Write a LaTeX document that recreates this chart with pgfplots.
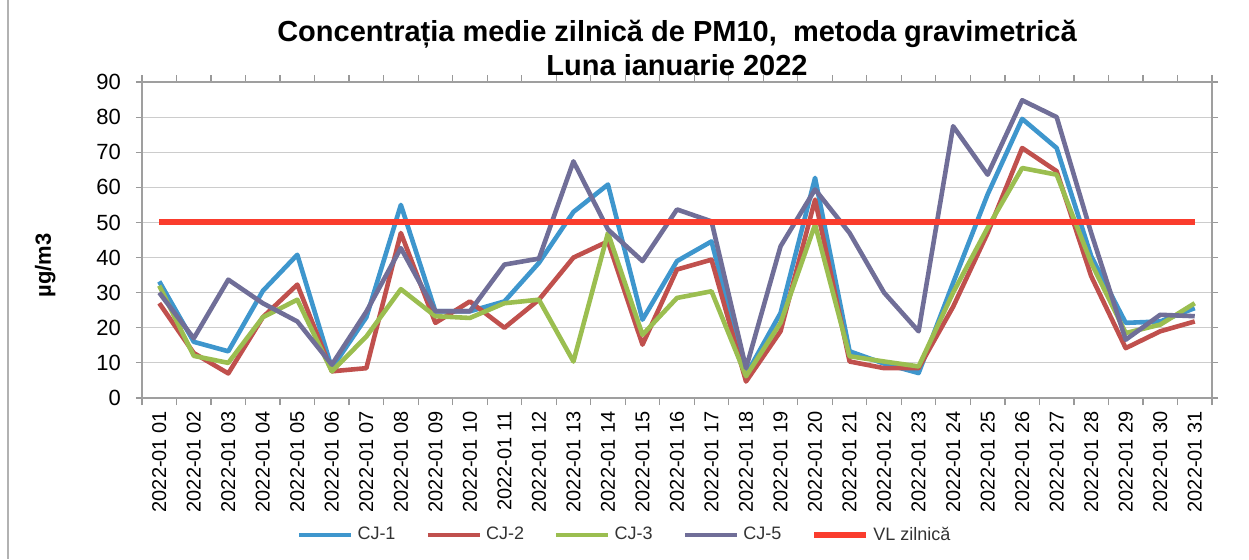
\documentclass[border=0pt]{standalone}
\usepackage{fontspec}
\setmainfont{Liberation Sans}
\usepackage{pgfplots}
\pgfplotsset{compat=1.18}
\usepackage{pgfplotstable}

\definecolor{cjone}{RGB}{62,150,205}
\definecolor{cjtwo}{RGB}{192,80,77}
\definecolor{cjthree}{RGB}{155,190,80}
\definecolor{cjfive}{RGB}{112,110,152}
\definecolor{vlred}{RGB}{250,60,45}

% daily means, ug/m3
\pgfplotstableread{
day cj1  cj2  cj3  cj5  vl
1   33.2 27.0 32.0 30.0 50
2   16.0 12.8 12.0 17.0 50
3   13.3 7.0  10.0 33.7 50
4   30.5 23.0 23.0 27.0 50
5   40.8 32.3 28.0 21.8 50
6   8.5  7.6  7.6  9.5  50
7   23.0 8.5  17.5 24.6 50
8   55.0 47.0 31.0 42.7 50
9   24.7 21.4 23.3 24.7 50
10  24.7 27.5 22.8 24.7 50
11  27.5 20.0 27.0 38.0 50
12  38.5 28.0 28.0 39.7 50
13  53.0 40.0 10.4 67.4 50
14  60.8 44.6 47.0 48.0 50
15  22.3 15.2 18.0 39.0 50
16  39.0 36.6 28.5 53.7 50
17  44.6 39.4 30.4 50.3 50
18  6.6  4.7  6.2  8.5  50
19  24.2 19.0 21.4 43.2 50
20  62.7 56.5 49.4 59.4 50
21  13.3 10.4 11.9 47.0 50
22  9.8  8.5  10.4 30.0 50
23  7.1  8.5  9.0  19.0 50
24  32.8 26.0 30.0 77.4 50
25  58.0 47.0 48.5 63.6 50
26  79.5 71.2 65.5 84.8 50
27  71.2 64.6 63.6 80.0 50
28  40.4 34.7 38.5 47.0 50
29  21.4 14.2 18.5 16.6 50
30  21.8 19.0 20.9 23.7 50
31  25.6 21.8 27.0 23.3 50
}\pmdata

\begin{document}
\begin{tikzpicture}
\useasboundingbox (-71pt,-80.5pt) rectangle (553.5pt,199pt);
\draw[gray!60, line width=0.6pt] (-67pt,-80.5pt) -- (-67pt,199pt);
\begin{axis}[
    at={(0,0)}, anchor=south west,
    scale only axis,
    width=535pt, height=158pt,
    xmin=0.5, xmax=31.5,
    ymin=0, ymax=90,
    xtick={1,...,31},
    xticklabels={2022-01 01,2022-01 02,2022-01 03,2022-01 04,2022-01 05,2022-01 06,2022-01 07,2022-01 08,2022-01 09,2022-01 10,2022-01 11,2022-01 12,2022-01 13,2022-01 14,2022-01 15,2022-01 16,2022-01 17,2022-01 18,2022-01 19,2022-01 20,2022-01 21,2022-01 22,2022-01 23,2022-01 24,2022-01 25,2022-01 26,2022-01 27,2022-01 28,2022-01 29,2022-01 30,2022-01 31},
    minor xtick={0.5,1.5,...,31.5},
    ytick={0,10,...,90},
    major x tick style={draw=none},
    minor x tick style={gray!80, line width=0.6pt},
    y tick style={gray!80, line width=0.6pt},
    tick align=outside,
    major tick length=3pt, minor tick length=3.5pt,
    ymajorgrids,
    grid style={gray!40, line width=0.6pt},
    axis line style={gray!75, line width=0.6pt},
    x tick label style={rotate=90, anchor=east, font=\fontsize{10}{12}\selectfont},
    y tick label style={font=\fontsize{11}{12}\selectfont, xshift=-4pt},
    /pgf/number format/assume math mode=true,
    title={Concentrația medie zilnică de PM10,~ metoda gravimetrică\\Luna ianuarie 2022},
    title style={font=\bfseries\fontsize{14.5}{17}\selectfont, align=center, at={(0.5,1)}, anchor=south, yshift=-6.5pt},
    ylabel={µg/m3},
    ylabel style={font=\bfseries\fontsize{11}{12}\selectfont, at={(axis description cs:-0.0905,0.42)}, anchor=center, rotate=0},
    legend columns=5,
    legend style={at={(0.452,-0.434)}, anchor=center, draw=none, fill=none,
        font=\fontsize{9}{11}\selectfont, text=black!80,
        /tikz/every even column/.append style={column sep=13pt}},
    legend image code/.code={\draw[#1] (0pt,0pt) -- (26pt,0pt);},
    every axis plot/.append style={line width=2.3pt, line join=round},
]
\addplot[color=cjone] table[x=day, y=cj1] {\pmdata};
\addlegendentry{CJ-1}
\addplot[color=cjtwo] table[x=day, y=cj2] {\pmdata};
\addlegendentry{CJ-2}
\addplot[color=cjthree] table[x=day, y=cj3] {\pmdata};
\addlegendentry{CJ-3}
\addplot[color=cjfive] table[x=day, y=cj5] {\pmdata};
\addlegendentry{CJ-5}
\addplot[color=vlred, line width=3pt] table[x=day, y=vl] {\pmdata};
\addlegendentry{VL zilnică}
\end{axis}
\end{tikzpicture}
\end{document}
